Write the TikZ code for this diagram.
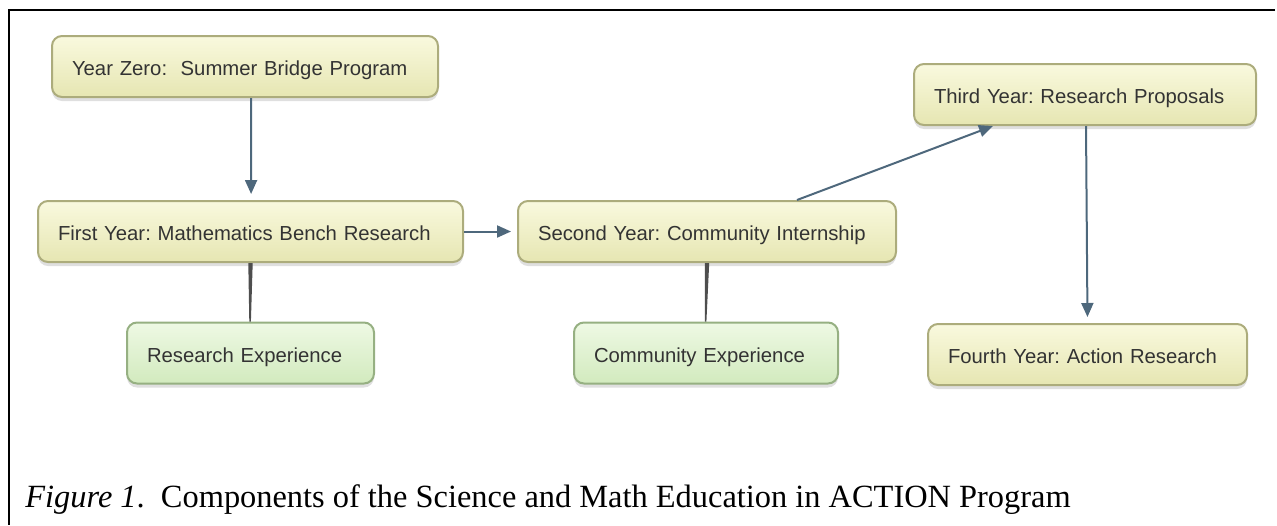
\documentclass[tikz,border=0pt]{standalone}
\usepackage{fontspec}
\setmainfont{Liberation Serif}
\newfontfamily\boxfont{Liberation Sans}
\usepackage{tikz}
\usetikzlibrary{arrows.meta,shadows}
\usepackage{xcolor}
\definecolor{yeltop}{RGB}{249,249,222}
\definecolor{yelbot}{RGB}{230,230,178}
\definecolor{yelline}{RGB}{172,172,124}
\definecolor{grntop}{RGB}{238,249,228}
\definecolor{grnbot}{RGB}{210,234,190}
\definecolor{grnline}{RGB}{150,176,130}
\definecolor{flowblue}{RGB}{78,104,124}
\definecolor{linkgrey}{RGB}{78,78,78}
\frenchspacing

\tikzset{
  yearbox/.style={draw=yelline, line width=1pt, rounded corners=5pt,
    top color=yeltop, bottom color=yelbot, minimum height=30.5pt,
    inner xsep=10pt, align=left, font=\boxfont\fontsize{10.15}{11}\selectfont,
    text height=11pt, text depth=2pt,
    text=black!80, drop shadow={shadow xshift=0pt, shadow yshift=-2pt, opacity=0.25}},
  expbox/.style={yearbox, draw=grnline, top color=grntop, bottom color=grnbot},
  flow/.style={draw=flowblue, line width=1pt, -{Triangle[length=7pt,width=6pt]}}
}

\begin{document}
\begin{tikzpicture}[x=0.5pt, y=-0.5pt]
    \useasboundingbox (0,0) rectangle (1277,525);
    % frame
    \draw[line width=1pt] (1275,10) -- (9,10) -- (9,525);

    \node[yearbox, text width=173pt] (yz) at (245,66.5) {Year Zero:\ \ Summer Bridge Program};
    \node[yearbox, text width=192.5pt] (fy) at (250.5,231.5) {First Year: Mathematics Bench Research};
    \node[yearbox, text width=169pt] (sy) at (707,231.5) {Second Year: Community Internship};
    \node[yearbox, text width=151pt] (ty) at (1085,94.5) {Third Year: Research Proposals};
    \node[yearbox, text width=139.5pt] (fo) at (1087.5,354.5) {Fourth Year: Action Research};
    \node[expbox, text width=103.5pt] (re) at (250.5,353) {Research Experience};
    \node[expbox, text width=112pt] (ce) at (706,353) {Community Experience};

    % year to year
    \draw[flow, shorten >=3pt] ([xshift=3pt]yz.south) -- ([xshift=0.3pt]fy.north);
    \draw[flow, shorten >=3pt] (fy.east) -- (sy.west);
    \draw[flow] ([xshift=45pt]sy.north) -- ([xshift=-46pt]ty.south);
    \draw[flow, shorten >=3pt] ([xshift=0.5pt]ty.south) -- (fo.north);

    % tapered links to the experiences
    \fill[linkgrey] ([xshift=-1.1pt]fy.south) -- ([xshift=1.1pt]fy.south)
      -- ([xshift=0.2pt]re.north) -- ([xshift=-0.6pt]re.north) -- cycle;
    \fill[linkgrey] ([xshift=-1.1pt]sy.south) -- ([xshift=1.1pt]sy.south)
      -- ([xshift=0.2pt]ce.north) -- ([xshift=-0.6pt]ce.north) -- cycle;

    \node[anchor=base west, font=\fontsize{16.2}{19}\selectfont, inner sep=0pt] (cap) at (25,507)
      {\textit{Figure 1}.\ \ Components of the Science and Math Education in ACTION Program};
\end{tikzpicture}
\end{document}
